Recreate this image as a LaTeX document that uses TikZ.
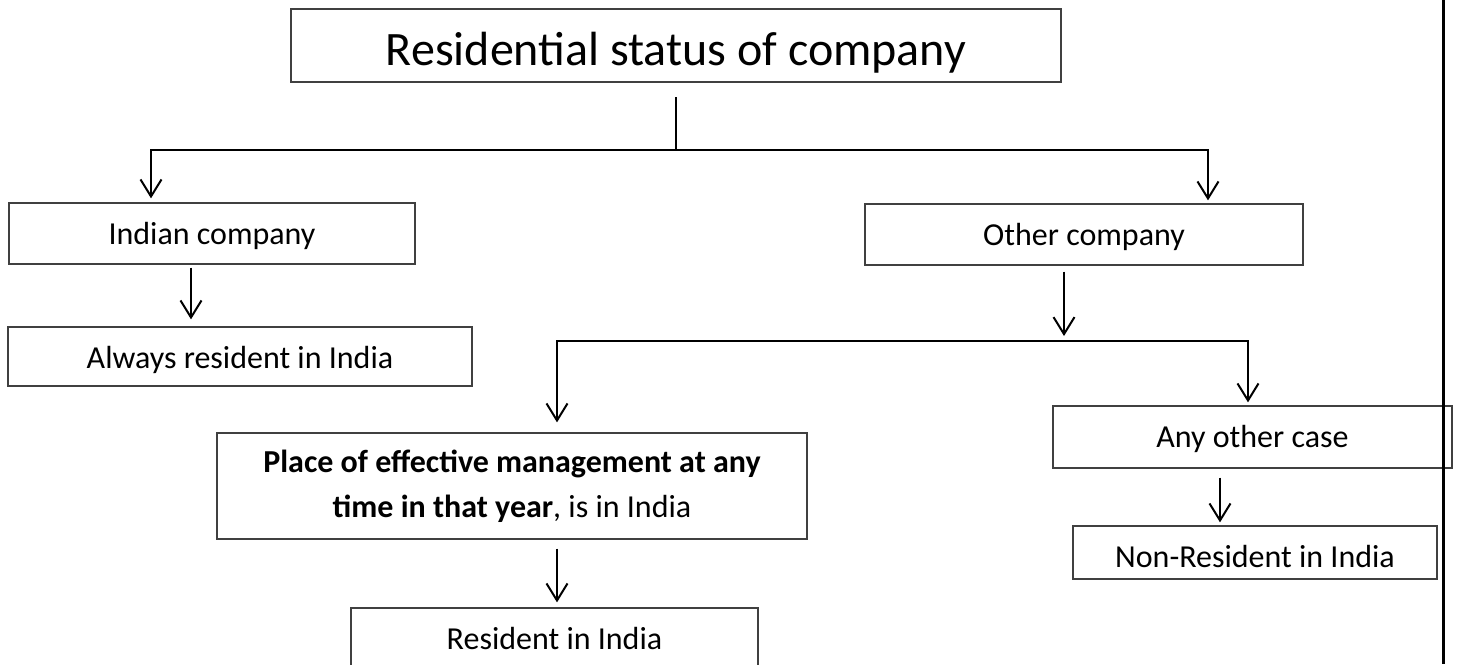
\documentclass[tikz,border=0pt]{standalone}
\usepackage{fontspec}
\setmainfont{Carlito}
\usetikzlibrary{arrows.meta, positioning}
\tikzstyle{framebox} = [draw=black!75, line width=1.3pt, rectangle, inner sep=0pt]
\tikzstyle{casebox} = [framebox, font=\fontsize{32}{39}\selectfont, text height=21pt, text depth=0pt]
\tikzstyle{longbox} = [framebox, align=center, font=\fontsize{32}{45}\selectfont]
\tikzstyle{arrowline} = [line width=2pt, -{Straight Barb[length=17pt,width=21pt]}]
\tikzstyle{plainline} = [line width=2pt]

\begin{document}
\begin{tikzpicture}[x=1pt, y=-1pt]
	\path[use as bounding box, clip] (0,0) rectangle (1458,664);
	\fill[white] (0,0) rectangle (1458,664);
	\node[casebox, minimum width=770pt, minimum height=73pt, font=\fontsize{48}{58}\selectfont, text height=39pt] (title) at (676,45.5) {Residential status of company};
	\node[casebox, minimum width=406pt, minimum height=61pt] (indian) at (212,233.5) {Indian company};
	\node[casebox, minimum width=464pt, minimum height=59pt, text height=23pt] (always) at (240,356.5) {Always resident in India};
	\node[casebox, minimum width=438pt, minimum height=61pt] (other) at (1084,234.5) {Other company};
	\node[longbox, minimum width=590pt, minimum height=106pt] (pem) at (512,486) {\textbf{Place of effective management at any}\\\textbf{time in that year}, is in India};
	\node[casebox, minimum width=407pt, minimum height=72pt, text height=10pt] (resident) at (554.5,644) {Resident in India};
	\node[casebox, minimum width=399pt, minimum height=62pt] (anyother) at (1252.5,437) {Any other case};
	\node[casebox, minimum width=364pt, minimum height=53pt, text height=29pt] (nonres) at (1255,552.5) {Non-Resident in India};
	\coordinate (stem) at (676,97);
	\coordinate (fork) at (676,150);
	\coordinate (split) at (1064,341);
	\coordinate (edgetop) at (1443,0);
	\coordinate (edgebot) at (1443,664);
	\draw[plainline] (stem) -- (fork);
	\draw[arrowline, shorten >=4pt] (fork) -| ([xshift=-61pt]indian.north);
	\draw[arrowline, shorten >=3pt] (fork) -| ([xshift=124pt]other.north);
	\draw[arrowline, shorten <=3pt, shorten >=7pt] ([xshift=-21pt]indian.south) coordinate (p1) -- (p1 |- always.north);
	\draw[arrowline, shorten <=6pt, shorten >=5pt] ([xshift=-20pt]other.south) -- (split);
	\draw[arrowline, shorten >=10pt] (split) -| ([xshift=45pt]pem.north);
	\draw[arrowline, shorten >=3pt] (split) -| ([xshift=-4.5pt]anyother.north);
	\draw[arrowline, shorten <=9pt, shorten >=5pt] ([xshift=45pt]pem.south) coordinate (p2) -- (p2 |- resident.north);
	\draw[arrowline, shorten <=9pt, shorten >=3pt] ([xshift=-32.5pt]anyother.south) coordinate (p3) -- (p3 |- nonres.north);
	\draw[line width=3pt] (edgetop) -- (edgebot);
\end{tikzpicture}
\end{document}
